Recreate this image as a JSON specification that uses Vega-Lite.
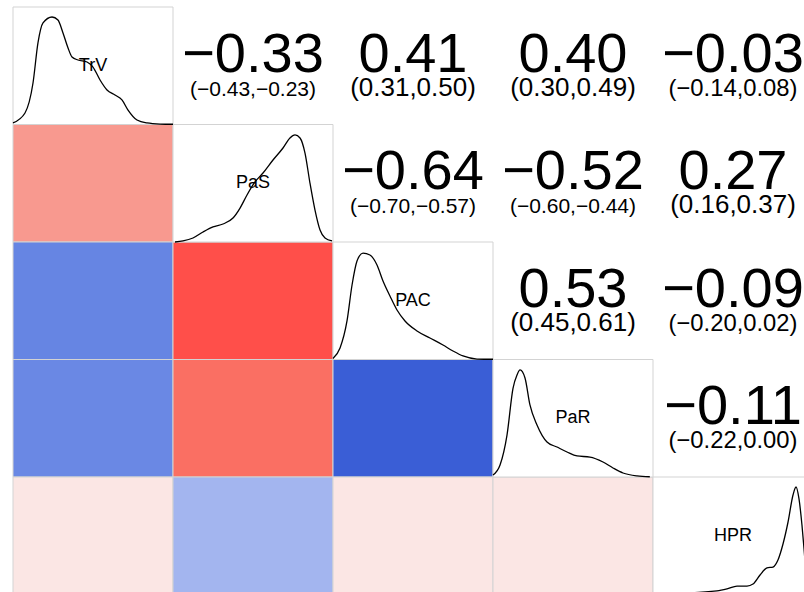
{
  "$schema": "https://vega.github.io/schema/vega-lite/v6.json",
  "width": 800,
  "height": 587.5,
  "autosize": {"type": "none"},
  "padding": {"left": 13, "top": 7, "right": 0, "bottom": 0},
  "background": "white",
  "config": {"view": {"stroke": null}},
  "datasets": {
    "cells": [
      {"row": 0, "col": 0, "type": "diag", "label": "TrV"},
      {"row": 1, "col": 1, "type": "diag", "label": "PaS"},
      {"row": 2, "col": 2, "type": "diag", "label": "PAC"},
      {"row": 3, "col": 3, "type": "diag", "label": "PaR"},
      {"row": 4, "col": 4, "type": "diag", "label": "HPR"},
      {"row": 1, "col": 0, "type": "lower", "r": -0.33},
      {"row": 2, "col": 0, "type": "lower", "r": 0.41},
      {"row": 2, "col": 1, "type": "lower", "r": -0.64},
      {"row": 3, "col": 0, "type": "lower", "r": 0.40},
      {"row": 3, "col": 1, "type": "lower", "r": -0.52},
      {"row": 3, "col": 2, "type": "lower", "r": 0.53},
      {"row": 4, "col": 0, "type": "lower", "r": -0.03},
      {"row": 4, "col": 1, "type": "lower", "r": 0.27},
      {"row": 4, "col": 2, "type": "lower", "r": -0.09},
      {"row": 4, "col": 3, "type": "lower", "r": -0.11},
      {"row": 0, "col": 1, "type": "upper", "r": -0.33, "ci": "(−0.43,−0.23)"},
      {"row": 0, "col": 2, "type": "upper", "r": 0.41, "ci": "(0.31,0.50)"},
      {"row": 0, "col": 3, "type": "upper", "r": 0.40, "ci": "(0.30,0.49)"},
      {"row": 0, "col": 4, "type": "upper", "r": -0.03, "ci": "(−0.14,0.08)"},
      {"row": 1, "col": 2, "type": "upper", "r": -0.64, "ci": "(−0.70,−0.57)"},
      {"row": 1, "col": 3, "type": "upper", "r": -0.52, "ci": "(−0.60,−0.44)"},
      {"row": 1, "col": 4, "type": "upper", "r": 0.27, "ci": "(0.16,0.37)"},
      {"row": 2, "col": 3, "type": "upper", "r": 0.53, "ci": "(0.45,0.61)"},
      {"row": 2, "col": 4, "type": "upper", "r": -0.09, "ci": "(−0.20,0.02)"},
      {"row": 3, "col": 4, "type": "upper", "r": -0.11, "ci": "(−0.22,0.00)"}
    ],
    "dens": [
      {"var": "TrV", "gx": 0.0, "gy": 0.987},
      {"var": "TrV", "gx": 0.075, "gy": 0.902},
      {"var": "TrV", "gx": 0.125, "gy": 0.647},
      {"var": "TrV", "gx": 0.156, "gy": 0.306},
      {"var": "TrV", "gx": 0.1875, "gy": 0.136},
      {"var": "TrV", "gx": 0.244, "gy": 0.085},
      {"var": "TrV", "gx": 0.281, "gy": 0.111},
      {"var": "TrV", "gx": 0.3125, "gy": 0.221},
      {"var": "TrV", "gx": 0.344, "gy": 0.349},
      {"var": "TrV", "gx": 0.369, "gy": 0.426},
      {"var": "TrV", "gx": 0.406, "gy": 0.451},
      {"var": "TrV", "gx": 0.4625, "gy": 0.468},
      {"var": "TrV", "gx": 0.5, "gy": 0.511},
      {"var": "TrV", "gx": 0.544, "gy": 0.621},
      {"var": "TrV", "gx": 0.5875, "gy": 0.706},
      {"var": "TrV", "gx": 0.6375, "gy": 0.749},
      {"var": "TrV", "gx": 0.681, "gy": 0.791},
      {"var": "TrV", "gx": 0.719, "gy": 0.877},
      {"var": "TrV", "gx": 0.775, "gy": 0.962},
      {"var": "TrV", "gx": 0.8375, "gy": 0.987},
      {"var": "TrV", "gx": 0.919, "gy": 0.996},
      {"var": "TrV", "gx": 1.0, "gy": 0.998},
      {"var": "PaS", "gx": 1.0125, "gy": 2.0},
      {"var": "PaS", "gx": 1.0625, "gy": 1.991},
      {"var": "PaS", "gx": 1.125, "gy": 1.966},
      {"var": "PaS", "gx": 1.1875, "gy": 1.915},
      {"var": "PaS", "gx": 1.25, "gy": 1.872},
      {"var": "PaS", "gx": 1.3125, "gy": 1.847},
      {"var": "PaS", "gx": 1.375, "gy": 1.796},
      {"var": "PaS", "gx": 1.419, "gy": 1.711},
      {"var": "PaS", "gx": 1.4625, "gy": 1.6},
      {"var": "PaS", "gx": 1.5125, "gy": 1.489},
      {"var": "PaS", "gx": 1.5625, "gy": 1.413},
      {"var": "PaS", "gx": 1.625, "gy": 1.302},
      {"var": "PaS", "gx": 1.6875, "gy": 1.2},
      {"var": "PaS", "gx": 1.731, "gy": 1.115},
      {"var": "PaS", "gx": 1.7625, "gy": 1.089},
      {"var": "PaS", "gx": 1.794, "gy": 1.115},
      {"var": "PaS", "gx": 1.825, "gy": 1.243},
      {"var": "PaS", "gx": 1.856, "gy": 1.498},
      {"var": "PaS", "gx": 1.8875, "gy": 1.728},
      {"var": "PaS", "gx": 1.919, "gy": 1.898},
      {"var": "PaS", "gx": 1.95, "gy": 1.966},
      {"var": "PaS", "gx": 1.994, "gy": 1.991},
      {"var": "PAC", "gx": 2.0, "gy": 2.991},
      {"var": "PAC", "gx": 2.044, "gy": 2.902},
      {"var": "PAC", "gx": 2.0875, "gy": 2.672},
      {"var": "PAC", "gx": 2.119, "gy": 2.366},
      {"var": "PAC", "gx": 2.15, "gy": 2.162},
      {"var": "PAC", "gx": 2.1875, "gy": 2.094},
      {"var": "PAC", "gx": 2.231, "gy": 2.111},
      {"var": "PAC", "gx": 2.275, "gy": 2.196},
      {"var": "PAC", "gx": 2.3125, "gy": 2.332},
      {"var": "PAC", "gx": 2.356, "gy": 2.46},
      {"var": "PAC", "gx": 2.4, "gy": 2.579},
      {"var": "PAC", "gx": 2.45, "gy": 2.672},
      {"var": "PAC", "gx": 2.525, "gy": 2.757},
      {"var": "PAC", "gx": 2.606, "gy": 2.817},
      {"var": "PAC", "gx": 2.6875, "gy": 2.877},
      {"var": "PAC", "gx": 2.75, "gy": 2.928},
      {"var": "PAC", "gx": 2.8125, "gy": 2.97},
      {"var": "PAC", "gx": 2.9, "gy": 2.996},
      {"var": "PAC", "gx": 3.0, "gy": 2.998},
      {"var": "PaR", "gx": 3.0, "gy": 3.983},
      {"var": "PaR", "gx": 3.044, "gy": 3.898},
      {"var": "PaR", "gx": 3.0875, "gy": 3.643},
      {"var": "PaR", "gx": 3.125, "gy": 3.245},
      {"var": "PaR", "gx": 3.15, "gy": 3.132},
      {"var": "PaR", "gx": 3.169, "gy": 3.089},
      {"var": "PaR", "gx": 3.2, "gy": 3.157},
      {"var": "PaR", "gx": 3.231, "gy": 3.387},
      {"var": "PaR", "gx": 3.275, "gy": 3.557},
      {"var": "PaR", "gx": 3.3375, "gy": 3.702},
      {"var": "PaR", "gx": 3.4, "gy": 3.745},
      {"var": "PaR", "gx": 3.4625, "gy": 3.787},
      {"var": "PaR", "gx": 3.525, "gy": 3.821},
      {"var": "PaR", "gx": 3.606, "gy": 3.83},
      {"var": "PaR", "gx": 3.6875, "gy": 3.872},
      {"var": "PaR", "gx": 3.75, "gy": 3.923},
      {"var": "PaR", "gx": 3.8125, "gy": 3.966},
      {"var": "PaR", "gx": 3.9, "gy": 3.991},
      {"var": "PaR", "gx": 3.98, "gy": 3.998},
      {"var": "HPR", "gx": 4.0125, "gy": 4.998},
      {"var": "HPR", "gx": 4.4, "gy": 4.97},
      {"var": "HPR", "gx": 4.4625, "gy": 4.953},
      {"var": "HPR", "gx": 4.525, "gy": 4.928},
      {"var": "HPR", "gx": 4.5875, "gy": 4.928},
      {"var": "HPR", "gx": 4.625, "gy": 4.911},
      {"var": "HPR", "gx": 4.669, "gy": 4.834},
      {"var": "HPR", "gx": 4.7125, "gy": 4.774},
      {"var": "HPR", "gx": 4.75, "gy": 4.766},
      {"var": "HPR", "gx": 4.781, "gy": 4.706},
      {"var": "HPR", "gx": 4.8125, "gy": 4.57},
      {"var": "HPR", "gx": 4.844, "gy": 4.383},
      {"var": "HPR", "gx": 4.875, "gy": 4.153},
      {"var": "HPR", "gx": 4.894, "gy": 4.085},
      {"var": "HPR", "gx": 4.9125, "gy": 4.187},
      {"var": "HPR", "gx": 4.931, "gy": 4.409},
      {"var": "HPR", "gx": 4.944, "gy": 4.613},
      {"var": "HPR", "gx": 4.956, "gy": 4.809},
      {"var": "HPR", "gx": 4.975, "gy": 4.962},
      {"var": "HPR", "gx": 5.0, "gy": 4.996}
    ]
  },
  "layer": [
    {
      "data": {"name": "cells"},
      "transform": [{"filter": "datum.type === 'lower'"}],
      "mark": {"type": "rect", "stroke": "#D3D3D3", "strokeWidth": 1},
      "encoding": {
        "x": {"field": "col", "type": "ordinal", "axis": null, "scale": {"domain": [0, 1, 2, 3, 4], "paddingInner": 0, "paddingOuter": 0}},
        "y": {"field": "row", "type": "ordinal", "axis": null, "scale": {"domain": [0, 1, 2, 3, 4], "paddingInner": 0, "paddingOuter": 0}},
        "fill": {"field": "r", "type": "quantitative", "legend": null,
          "scale": {"domain": [-0.64, -0.52, -0.33, -0.11, -0.03, 0.27, 0.40, 0.53],
                    "range": ["#FF4F4A", "#FA6F63", "#F8998F", "#FBE6E4", "#FBE6E4", "#A3B5EF", "#6A88E4", "#3A5ED6"],
                    "interpolate": "rgb"}}
      }
    },
    {
      "data": {"name": "cells"},
      "transform": [{"filter": "datum.type === 'diag'"}],
      "mark": {"type": "rect", "fill": "white", "stroke": "#D3D3D3", "strokeWidth": 1},
      "encoding": {
        "x": {"field": "col", "type": "ordinal", "axis": null, "scale": {"domain": [0, 1, 2, 3, 4], "paddingInner": 0, "paddingOuter": 0}},
        "y": {"field": "row", "type": "ordinal", "axis": null, "scale": {"domain": [0, 1, 2, 3, 4], "paddingInner": 0, "paddingOuter": 0}}
      }
    },
    {
      "data": {"name": "dens"},
      "mark": {"type": "line", "color": "black", "strokeWidth": 1.3, "interpolate": "monotone", "clip": false},
      "encoding": {
        "x": {"field": "gx", "type": "quantitative", "axis": null, "scale": {"domain": [0, 5], "nice": false, "zero": false}},
        "y": {"field": "gy", "type": "quantitative", "axis": null, "scale": {"domain": [0, 5], "nice": false, "zero": false, "reverse": true}},
        "detail": {"field": "var", "type": "nominal"}
      }
    },
    {
      "data": {"name": "cells"},
      "transform": [{"filter": "datum.type === 'diag'"}],
      "mark": {"type": "text", "font": "Liberation Sans", "fontSize": 18, "baseline": "middle", "align": "center", "color": "black"},
      "encoding": {
        "x": {"field": "col", "type": "ordinal", "axis": null, "scale": {"domain": [0, 1, 2, 3, 4], "paddingInner": 0, "paddingOuter": 0}},
        "y": {"field": "row", "type": "ordinal", "axis": null, "scale": {"domain": [0, 1, 2, 3, 4], "paddingInner": 0, "paddingOuter": 0}},
        "text": {"field": "label"}
      }
    },
    {
      "data": {"name": "cells"},
      "transform": [{"filter": "datum.type === 'upper'"}],
      "mark": {"type": "text", "font": "Liberation Sans", "fontSize": 56, "baseline": "alphabetic", "align": "center", "dy": 6, "color": "black"},
      "encoding": {
        "x": {"field": "col", "type": "ordinal", "axis": null, "scale": {"domain": [0, 1, 2, 3, 4], "paddingInner": 0, "paddingOuter": 0}},
        "y": {"field": "row", "type": "ordinal", "axis": null, "scale": {"domain": [0, 1, 2, 3, 4], "paddingInner": 0, "paddingOuter": 0}},
        "text": {"field": "r", "type": "quantitative", "format": ".2f"}
      }
    },
    {
      "data": {"name": "cells"},
      "transform": [{"filter": "datum.type === 'upper'"}],
      "mark": {"type": "text", "font": "Liberation Sans", "baseline": "alphabetic", "align": "center", "dy": 30, "color": "black"},
      "encoding": {
        "x": {"field": "col", "type": "ordinal", "axis": null, "scale": {"domain": [0, 1, 2, 3, 4], "paddingInner": 0, "paddingOuter": 0}},
        "y": {"field": "row", "type": "ordinal", "axis": null, "scale": {"domain": [0, 1, 2, 3, 4], "paddingInner": 0, "paddingOuter": 0}},
        "text": {"field": "ci"},
        "size": {"field": "ci", "type": "nominal", "legend": null,
          "scale": {"type": "ordinal",
                    "domain": ["(−0.43,−0.23)", "(0.31,0.50)", "(0.30,0.49)", "(−0.14,0.08)", "(−0.70,−0.57)", "(−0.60,−0.44)", "(0.16,0.37)", "(0.45,0.61)", "(−0.20,0.02)", "(−0.22,0.00)"],
                    "range": [21, 26, 26, 23.8, 21, 21, 26, 26, 23.8, 23.8]}}
      }
    }
  ],
  "resolve": {"scale": {"x": "independent", "y": "independent"}}
}
